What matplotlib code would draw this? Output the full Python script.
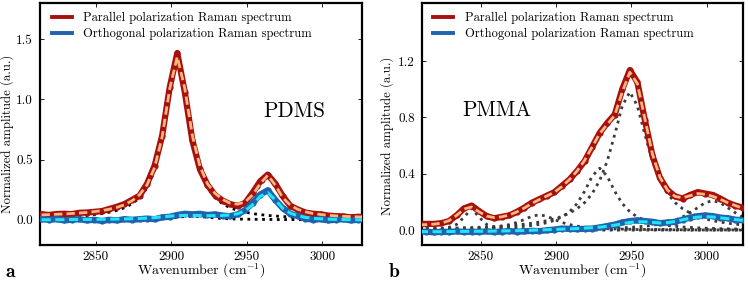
import numpy as np
import matplotlib
matplotlib.use("Agg")
from matplotlib import pyplot as plt
from matplotlib.ticker import FormatStrFormatter

plt.rcParams['font.family'] = ['cmr10', 'DejaVu Serif']
plt.rcParams['mathtext.fontset'] = 'cm'
plt.rcParams['axes.unicode_minus'] = False

# wavenumber grids (cm^-1), one value every 5 cm^-1
wn_a = np.arange(2814, 3030, 5)
wn_b = np.arange(2809, 3025, 5)

# ---- PDMS (panel a) ----
pdms_par = [0.045, 0.040, 0.048, 0.050, 0.047, 0.058, 0.060, 0.066, 0.072, 0.090,
            0.108, 0.130, 0.165, 0.200, 0.300, 0.450, 0.700, 1.100, 1.385, 1.060,
            0.660, 0.420, 0.290, 0.205, 0.160, 0.130, 0.115, 0.140, 0.225, 0.320,
            0.375, 0.300, 0.195, 0.115, 0.085, 0.060, 0.050, 0.045, 0.035, 0.030,
            0.028, 0.020, 0.025, 0.022]
pdms_par_fit = [0.041, 0.043, 0.046, 0.048, 0.052, 0.056, 0.061, 0.068, 0.076, 0.088,
                0.103, 0.125, 0.158, 0.208, 0.291, 0.434, 0.690, 1.089, 1.355, 1.090,
                0.700, 0.446, 0.300, 0.220, 0.170, 0.138, 0.130, 0.148, 0.208, 0.300,
                0.370, 0.288, 0.183, 0.120, 0.086, 0.066, 0.052, 0.044, 0.037, 0.033,
                0.029, 0.026, 0.024, 0.023]
pdms_orth = [0.005, 0.000, 0.005, -0.005, 0.000, 0.005, -0.005, 0.000, -0.010, 0.000,
             -0.005, 0.005, 0.000, 0.005, 0.010, 0.005, 0.020, 0.025, 0.040, 0.050,
             0.045, 0.050, 0.040, 0.045, 0.035, 0.030, 0.045, 0.080, 0.140, 0.210,
             0.245, 0.165, 0.095, 0.050, 0.030, 0.010, 0.000, 0.005, -0.005, 0.000,
             0.005, -0.005, 0.000, 0.000]
pdms_orth_fit = [0.000, 0.000, 0.001, 0.001, 0.002, 0.002, 0.003, 0.003, 0.004, 0.005,
                 0.006, 0.007, 0.009, 0.011, 0.014, 0.018, 0.024, 0.030, 0.034, 0.036,
                 0.036, 0.035, 0.034, 0.034, 0.036, 0.040, 0.050, 0.075, 0.125, 0.195,
                 0.225, 0.165, 0.095, 0.055, 0.033, 0.020, 0.012, 0.008, 0.005, 0.003,
                 0.002, 0.001, 0.000, 0.000]
# fitted components (dotted)
pdms_comp1 = [0.016, 0.018, 0.021, 0.023, 0.027, 0.031, 0.036, 0.043, 0.051, 0.063,
              0.078, 0.100, 0.133, 0.183, 0.266, 0.409, 0.665, 1.064, 1.330, 1.064,
              0.665, 0.409, 0.266, 0.183, 0.133, 0.100, 0.078, 0.063, 0.051, 0.043,
              0.036, 0.031, 0.027, 0.023, 0.021, 0.018, 0.016, 0.015, 0.013, 0.012,
              0.011, 0.010, 0.009, 0.008]
pdms_comp2 = [0.203, 0.159, 0.137, 0.132, 0.148, 0.194, 0.287, 0.356, 0.275, 0.170,
              0.108, 0.075, 0.055, 0.042, 0.035, 0.028, 0.024, 0.021, 0.018, 0.016,
              0.015]
pdms_comp3 = [0.001, 0.001, 0.001, 0.001, 0.001, 0.001, 0.002, 0.002, 0.002, 0.002,
              0.003, 0.003, 0.004, 0.005, 0.006, 0.008, 0.011, 0.015, 0.021, 0.027,
              0.030, 0.027, 0.021, 0.015, 0.011, 0.008, 0.006, 0.005, 0.004, 0.003,
              0.003, 0.002, 0.002, 0.002, 0.001, 0.001, 0.001, 0.001, 0.001, 0.001,
              0.001, 0.001, 0.001, 0.001]

# ---- PMMA (panel b) ----
pmma_par = [0.045, 0.045, 0.045, 0.050, 0.065, 0.105, 0.155, 0.175, 0.135, 0.100, 0.085,
            0.095, 0.105, 0.130, 0.160, 0.195, 0.220, 0.245, 0.270, 0.315, 0.360,
            0.420, 0.490, 0.590, 0.690, 0.760, 0.820, 1.000, 1.135, 1.050, 0.780,
            0.530, 0.370, 0.285, 0.240, 0.225, 0.250, 0.270, 0.260, 0.250, 0.225,
            0.195, 0.175, 0.160]
pmma_par_fit = [0.038, 0.040, 0.043, 0.050, 0.068, 0.105, 0.150, 0.165, 0.130, 0.100, 0.090,
                0.095, 0.108, 0.130, 0.158, 0.190, 0.218, 0.243, 0.270, 0.310, 0.360,
                0.420, 0.495, 0.590, 0.685, 0.750, 0.815, 0.980, 1.120, 1.040, 0.790,
                0.540, 0.375, 0.285, 0.240, 0.230, 0.245, 0.260, 0.255, 0.240, 0.220,
                0.195, 0.175, 0.155]
pmma_orth = [-0.010, -0.010, -0.015, -0.010, -0.012, -0.008, -0.012, -0.010, -0.012, -0.008, -0.012,
             -0.010, -0.006, -0.010, -0.008, -0.004, -0.006, 0.000, 0.005, 0.012, 0.010,
             0.008, 0.010, 0.012, 0.020, 0.030, 0.040, 0.055, 0.065, 0.070, 0.065,
             0.060, 0.050, 0.055, 0.060, 0.075, 0.090, 0.100, 0.105, 0.100, 0.090,
             0.085, 0.075, 0.070]
pmma_orth_fit = [-0.010, -0.010, -0.010, -0.010, -0.009, -0.009, -0.008, -0.008, -0.007, -0.007, -0.006,
                 -0.005, -0.004, -0.003, -0.002, 0.000, 0.002, 0.004, 0.006, 0.008, 0.010,
                 0.012, 0.015, 0.018, 0.022, 0.028, 0.036, 0.046, 0.055, 0.060, 0.060,
                 0.056, 0.052, 0.054, 0.062, 0.074, 0.085, 0.093, 0.096, 0.094, 0.088,
                 0.082, 0.076, 0.070]
pmma_c1 = [0.004, 0.006, 0.008, 0.012, 0.021, 0.041, 0.092, 0.155, 0.092, 0.041, 0.021,
           0.012, 0.008, 0.006, 0.004, 0.003, 0.003, 0.002, 0.002, 0.002, 0.001,
           0.001, 0.001, 0.001, 0.001, 0.001, 0.001, 0.001, 0.001, 0.001, 0.001,
           0.001, 0.001, 0.001, 0.001, 0.001, 0.000, 0.000, 0.000, 0.000, 0.000,
           0.000, 0.000, 0.000]
pmma_c2 = [0.004, 0.004, 0.005, 0.005, 0.007, 0.008, 0.009, 0.011, 0.014, 0.017, 0.022,
           0.029, 0.040, 0.055, 0.076, 0.099, 0.110, 0.099, 0.076, 0.055, 0.040,
           0.029, 0.022, 0.017, 0.014, 0.011, 0.009, 0.008, 0.007, 0.005, 0.005,
           0.004, 0.004, 0.003, 0.003, 0.003, 0.003, 0.002, 0.002, 0.002, 0.002,
           0.002, 0.002, 0.001]
pmma_c3 = [0.005, 0.006, 0.006, 0.007, 0.007, 0.008, 0.009, 0.010, 0.011, 0.013, 0.015,
           0.017, 0.020, 0.023, 0.028, 0.034, 0.042, 0.054, 0.070, 0.094, 0.131,
           0.189, 0.276, 0.383, 0.440, 0.383, 0.276, 0.189, 0.131, 0.094, 0.070,
           0.054, 0.042, 0.034, 0.028, 0.023, 0.020, 0.017, 0.015, 0.013, 0.011,
           0.010, 0.009, 0.008]
pmma_c4 = [0.011, 0.012, 0.013, 0.014, 0.015, 0.016, 0.018, 0.019, 0.021, 0.023, 0.026,
           0.030, 0.033, 0.038, 0.043, 0.050, 0.058, 0.068, 0.081, 0.098, 0.122,
           0.153, 0.196, 0.259, 0.353, 0.490, 0.679, 0.882, 0.980, 0.882, 0.679,
           0.490, 0.353, 0.259, 0.196, 0.153, 0.122, 0.098, 0.081, 0.068, 0.058,
           0.050, 0.043, 0.038]
pmma_c5 = [0.002, 0.002, 0.002, 0.002, 0.002, 0.002, 0.002, 0.003, 0.003, 0.003, 0.003,
           0.003, 0.004, 0.004, 0.004, 0.005, 0.005, 0.006, 0.006, 0.007, 0.007,
           0.008, 0.009, 0.010, 0.011, 0.013, 0.015, 0.017, 0.020, 0.024, 0.029,
           0.035, 0.044, 0.056, 0.072, 0.094, 0.124, 0.160, 0.195, 0.210, 0.195,
           0.160, 0.124, 0.094]
pmma_orth_comp = [0.000, 0.000, 0.000, 0.000, 0.000, 0.000, 0.000, 0.000, 0.000, 0.000, 0.001,
                  0.001, 0.001, 0.001, 0.001, 0.002, 0.002, 0.002, 0.003, 0.003, 0.004,
                  0.004, 0.005, 0.005, 0.006, 0.006, 0.007, 0.007, 0.007, 0.007, 0.007,
                  0.006, 0.006, 0.006, 0.006, 0.006, 0.006, 0.006, 0.006, 0.006, 0.006,
                  0.005, 0.005, 0.005]

RED = '#a8100f'
BLUE = '#1f62ad'
ORANGE = '#f9b77c'
CYAN = '#1ee6f5'

fig = plt.figure(figsize=(7.48, 2.82), dpi=100)
ax_a = fig.add_axes([0.0535, 0.131, 0.4305, 0.858])
ax_b = fig.add_axes([0.564, 0.131, 0.4291, 0.858])


def draw(ax, wn, par, par_fit, orth, orth_fit, comps, dot_color):
    for xs, ys in comps:
        ax.plot(xs, ys, ':', color=dot_color, lw=2.0, zorder=2)
    ax.plot(wn, par, '-', color=RED, lw=4.5, marker='o', ms=4.5, mew=0,
            label='Parallel polarization Raman spectrum', zorder=3)
    ax.plot(wn, orth, '-', color=BLUE, lw=4.5, marker='o', ms=4.5, mew=0,
            label='Orthogonal polarization Raman spectrum', zorder=3)
    ax.plot(wn, par_fit, '--', color=ORANGE, lw=2.0, dashes=(3, 1.5), zorder=4)
    ax.plot(wn, orth_fit, '--', color=CYAN, lw=2.2, dashes=(3, 1.5), zorder=4)
    ax.set_xticks([2850, 2900, 2950, 3000])
    ax.tick_params(direction='in', top=True, right=True, labelsize=9.5, length=3,
                   width=0.6)
    ax.tick_params(axis='x', pad=4)
    ax.tick_params(axis='y', pad=5)
    for s in ax.spines.values():
        s.set_linewidth(1.6)
    ax.yaxis.set_major_formatter(FormatStrFormatter('%.1f'))
    ax.set_xlabel('Wavenumber (cm$^{-1}$)', fontsize=10)
    ax.set_ylabel('Normalized amplitude (a.u.)', fontsize=9.2)
    ax.xaxis.set_label_coords(0.5, -0.07)
    leg = ax.legend(loc='upper left', bbox_to_anchor=(0.036, 0.962), frameon=False,
                    fontsize=9, handlelength=1.6, handletextpad=0.9,
                    labelspacing=0.3, borderaxespad=0, borderpad=0)
    for h in leg.get_lines():
        h.set_linewidth(2.8)
        h.set_marker('')


draw(ax_a, wn_a, pdms_par, pdms_par_fit, pdms_orth, pdms_orth_fit,
     [(wn_a, pdms_comp1), (wn_a[23:], pdms_comp2), (wn_a, pdms_comp3)], 'black')
ax_a.set_xlim(2813, 3026.5)
ax_a.set_ylim(-0.21, 1.8)
ax_a.set_yticks([0.0, 0.5, 1.0, 1.5])
ax_a.yaxis.set_label_coords(-0.08, 0.459)
ax_a.text(0.692, 0.554, 'PDMS', transform=ax_a.transAxes, fontsize=15.3,
          ha='left', va='center')

draw(ax_b, wn_b, pmma_par, pmma_par_fit, pmma_orth, pmma_orth_fit,
     [(wn_b, pmma_c1), (wn_b, pmma_c2), (wn_b, pmma_c3), (wn_b, pmma_c4),
      (wn_b, pmma_c5), (wn_b, pmma_orth_comp)], '#3a3a3a')
ax_b.set_xlim(2811, 3024)
ax_b.set_ylim(-0.105, 1.61)
ax_b.set_yticks([0.0, 0.4, 0.8, 1.2])
ax_b.yaxis.set_label_coords(-0.087, 0.45)
ax_b.text(0.125, 0.556, 'PMMA', transform=ax_b.transAxes, fontsize=15.3,
          ha='left', va='center')

fig.text(0.007, 0.018, 'a', fontsize=14, family='cmb10', ha='left', va='baseline')
fig.text(0.520, 0.018, 'b', fontsize=14, family='cmb10', ha='left', va='baseline')

fig.savefig('out.png', dpi=100)
